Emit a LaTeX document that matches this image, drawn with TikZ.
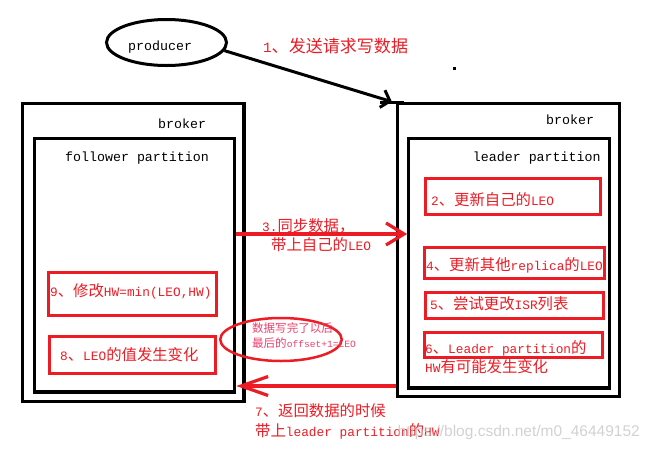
\documentclass[tikz,border=0pt]{standalone}
\usepackage{fontspec}
\setmainfont{Liberation Mono}
\newfontfamily\cjk[Scale=1.2]{Noto Sans CJK SC}
\newfontfamily\wmfont{Liberation Sans}
\usepackage{tikz}
\usetikzlibrary{arrows.meta}
\usetikzlibrary{shapes.geometric}
\usepackage{xcolor}
\definecolor{paintred}{RGB}{237,28,36}
\definecolor{notered}{RGB}{240,64,110}

\begin{document}
\begin{tikzpicture}[x=1pt,y=-1pt]
  \tikzset{brokerbox/.style = {shape=rectangle,draw,line width=3.2pt,inner sep=0pt}}
  \tikzset{redbox/.style = {shape=rectangle,draw=paintred,line width=3pt,inner sep=0pt}}
  \tikzset{blacktext/.style = {anchor=base west,inner sep=0pt,font=\fontsize{13.3}{16}\selectfont}}
  \tikzset{redtext/.style = {anchor=base west,inner sep=0pt,text=paintred,align=left,font=\fontsize{12.8}{19}\selectfont}}
  \tikzset{sendarrow/.style = {-{Straight Barb[length=8pt,width=18pt]},line width=3pt}}
  \tikzset{syncarrow/.style = {-{Straight Barb[length=18pt,width=22pt]},line width=3.2pt,paintred}}
  \tikzset{backarrow/.style = {-{Straight Barb[length=27pt,width=19pt]},line width=3.2pt,paintred}}

  \useasboundingbox[fill=white] (0,0) rectangle (649,448);

  % producer
  \node[shape=ellipse,draw,line width=3pt,minimum width=120pt,minimum height=46pt,inner sep=0pt] (producer) at (166.5,42.5) {};
  \node[blacktext] (prodtxt) at (128,50.5) {producer};

  % follower side
  \node[brokerbox,minimum width=221.7pt,minimum height=298.4pt] (lbroker) at (133.15,252.5) {};
  \node[brokerbox,minimum width=200pt,minimum height=253.3pt] (lpart) at (134.7,265.35) {};
  \node[blacktext] (lbrokertxt) at (158,128) {broker};
  \node[blacktext] (lparttxt) at (65,161.7) {follower partition};
  \node[redbox,minimum width=168pt,minimum height=43pt] (minhw) at (132.5,294) {};
  \node[redbox,minimum width=166pt,minimum height=37pt] (leochg) at (132.5,355) {};
  \node[redtext] (minhwtxt) at (50,296) {9{\cjk 、修改}HW=min(LEO,HW)};
  \node[redtext] (leochgtxt) at (60,360) {8{\cjk 、}LEO{\cjk 的值发生变化}};

  % leader side
  \node[brokerbox,minimum width=222.2pt,minimum height=293.4pt] (rbroker) at (508.6,250) {};
  \node[brokerbox,minimum width=201pt,minimum height=249.3pt] (rpart) at (509.2,263.35) {};
  \node[blacktext] (rbrokertxt) at (546,124) {broker};
  \node[blacktext] (rparttxt) at (472.7,161.7) {leader partition};
  \node[redbox,minimum width=175pt,minimum height=36pt] (ownleo) at (513,196.5) {};
  \node[redbox,minimum width=180pt,minimum height=31pt] (otherleo) at (514.5,263) {};
  \node[redbox,minimum width=178pt,minimum height=26pt] (isr) at (514.5,305.5) {};
  \node[redbox,minimum width=178pt,minimum height=25pt] (leaderhw) at (513.5,345) {};
  \node[redtext] (ownleotxt) at (431,205) {2{\cjk 、更新自己的}LEO};
  \node[redtext] (otherleotxt) at (426,270) {4{\cjk 、更新其他}replica{\cjk 的}LEO};
  \node[redtext] (isrtxt) at (430,309.5) {5{\cjk 、尝试更改}ISR{\cjk 列表}};
  \node[redtext,font=\fontsize{12.8}{18.5}\selectfont] (leaderhwtxt) at (425,372) {6{\cjk 、}Leader partition{\cjk 的}\\HW{\cjk 有可能发生变化}};

  % note
  \node[shape=ellipse,draw=paintred,line width=2.5pt,minimum width=121.5pt,minimum height=43pt,inner sep=0pt] (note) at (281,339.5) {};
  \node[redtext,text=notered,font=\fontsize{9.6}{15.5}\selectfont] (notetxt) at (252,347.5) {{\cjk 数据写完了以后}\\{\cjk 最后的}offset+1=LEO};

  % arrows
  \path[sendarrow] (producer.-8) edge ([xshift=-4pt]rbroker.north west);
  \draw[line width=3.2pt] ([xshift=-15.5pt,yshift=-1pt]rbroker.north west) -- ([xshift=8.5pt,yshift=-1pt]rbroker.north west);
  \path[syncarrow] ([yshift=31.35pt]lpart.east) edge ([yshift=29.35pt]rpart.west);
  \path[backarrow] ([yshift=-136pt]rbroker.west) edge ([yshift=-120.65pt]lpart.east);

  \node[anchor=base west,inner sep=0pt,text=paintred,font=\fontsize{14.2}{17}\selectfont] (sendtxt) at (263,52) {1{\cjk 、发送请求写数据}};
  \node[redtext] (synctxt) at (262,250) {3.{\cjk 同步数据，}\\\hspace*{9pt}{\cjk 带上自己的}LEO};
  \node[redtext,font=\fontsize{12.8}{20}\selectfont] (backtxt) at (255,436) {7{\cjk 、返回数据的时候}\\{\cjk 带上}leader partition{\cjk 的}HW};

  \fill (452.5,66.5) rectangle (455.5,69.5);
  \node[anchor=base east,inner sep=0pt,text=black!22,text opacity=0.8,font=\wmfont\fontsize{15.5}{18}\selectfont] (mark) at (640,436) {https://blog.csdn.net/m0\_46449152};
\end{tikzpicture}
\end{document}
